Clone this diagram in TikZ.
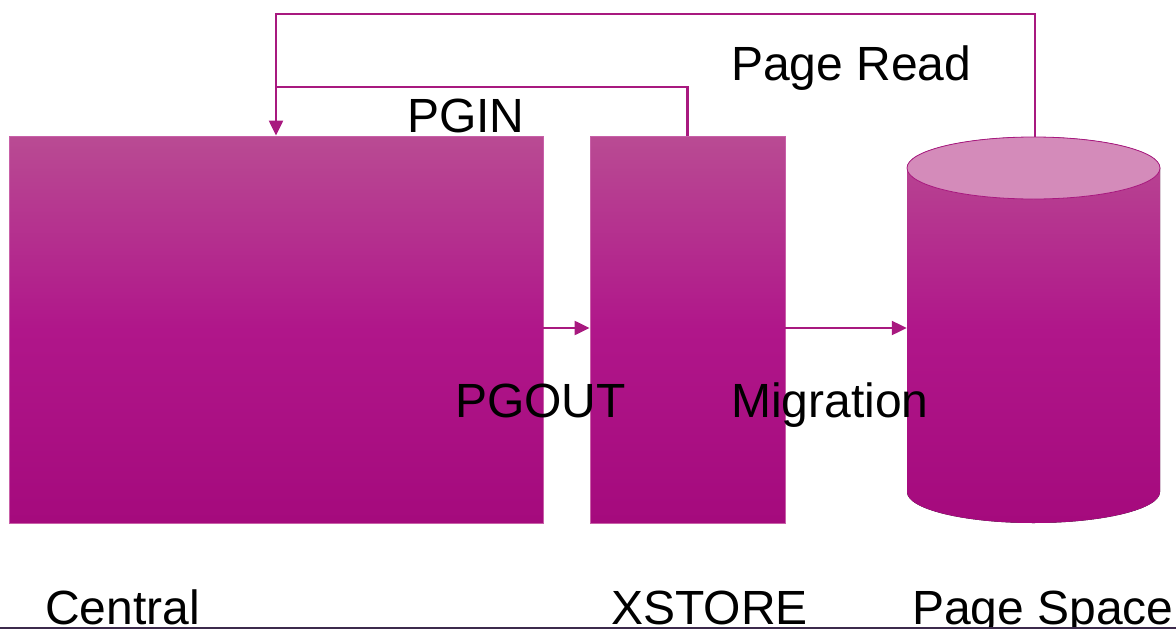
\documentclass[tikz,border=0pt]{standalone}
\usepackage{fontspec}
\setmainfont{Liberation Sans}
\usetikzlibrary{arrows.meta}
\definecolor{linkc}{HTML}{A8197F}
\definecolor{boxtop}{HTML}{B94B93}
\definecolor{boxmid}{HTML}{B0168A}
\definecolor{boxbot}{HTML}{A50A7D}
\definecolor{capc}{HTML}{D48BBA}
\definecolor{edgec}{HTML}{C860A8}
\definecolor{rulec}{HTML}{3C2A4C}
\tikzset{
  store/.style={rectangle, inner sep=0pt, draw=edgec, line width=0.8pt,
    top color=boxtop, bottom color=boxbot, middle color=boxmid},
  link/.style={draw=linkc, line width=2.2pt},
  arr/.style={link, -{Triangle[length=15pt,width=14pt]}},
  lbl/.style={font=\fontsize{48}{58}\selectfont, text=black, inner sep=0pt, anchor=base west}
}
\begin{document}
\begin{tikzpicture}[x=1pt,y=-1pt]
\useasboundingbox (0,0) rectangle (1176,629);

% storage blocks
\node[store, minimum width=534pt, minimum height=387pt] (central) at (276,329.5) {};
\node[store, minimum width=195pt, minimum height=387pt] (xstore) at (687.5,329.5) {};

% page space cylinder
\fill[top color=boxtop, bottom color=boxbot, middle color=boxmid]
  (907,168) -- (907,492) arc[start angle=180, end angle=360, x radius=126.5pt, y radius=31pt]
  -- (1160,168) arc[start angle=0, end angle=180, x radius=126.5pt, y radius=31pt] -- cycle;
\draw[fill=capc, draw=linkc, line width=0.8pt] (1033.5,168) ellipse[x radius=126.5pt, y radius=31pt];
\node[inner sep=0pt, minimum width=253pt, minimum height=386pt] (space) at (1033.5,330) {};

% reference levels for the return paths
\coordinate (pginy) at (0,87);
\coordinate (ready) at (0,14);

% connectors (the transfer arrows sit slightly above the block centres)
\draw[arr] ([yshift=1.5pt]central.east) -- ([yshift=1.5pt]xstore.west);
\draw[arr] ([yshift=1.5pt]xstore.east) -- ([yshift=2pt]space.west);
\draw[arr] (xstore.north) |- (central.north |- pginy) -- (central.north);
\draw[link] ([xshift=1.5pt]space.north) |- (central.north |- ready) -- (central.north |- pginy);

% labels
\node[lbl] (lpgin) at (407,132) {PGIN};
\node[lbl] (lread) at (731,80) {Page Read};
\node[lbl] (lpgout) at (455,417) {PGOUT};
\node[lbl] (lmig) at (731,417) {Migration};
\node[lbl] (lcentral) at (45,624) {Central};
\node[lbl] (lxstore) at (611,624) {XSTORE};
\node[lbl] (lspace) at (912,624) {Page Space};

% bottom rule
\draw[rulec, line width=1.5pt] (0,628) -- (1176,628);
\end{tikzpicture}
\end{document}
